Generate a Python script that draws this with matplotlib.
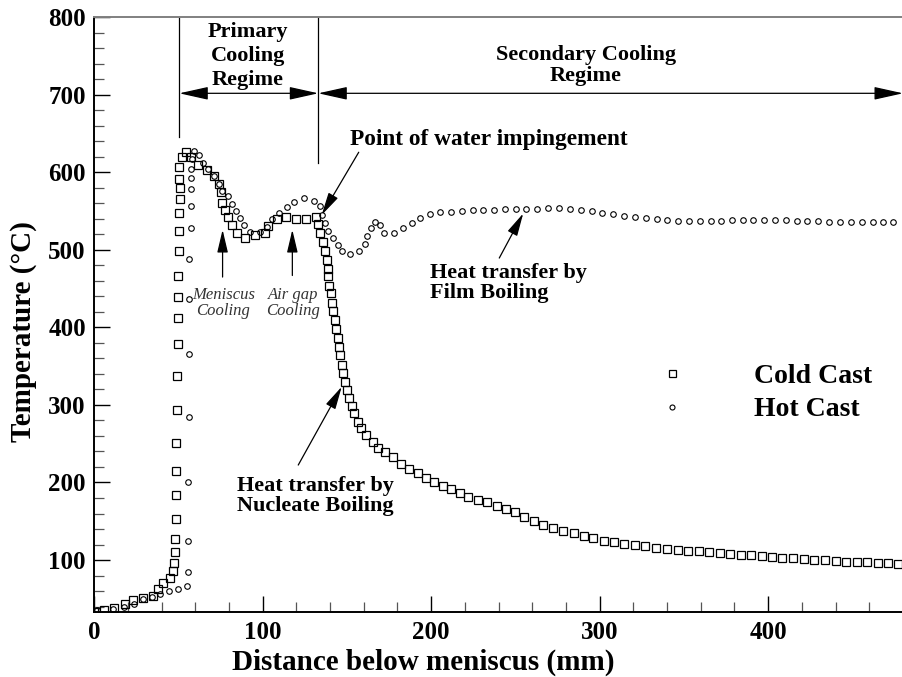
import matplotlib
matplotlib.use("Agg")
import matplotlib.pyplot as plt
import numpy as np
from matplotlib.ticker import MultipleLocator

plt.rcParams["font.family"] = ["Liberation Serif", "DejaVu Serif"]
plt.rcParams["font.weight"] = "bold"

# cold cast (squares), distance in mm and temperature in C
cold_x = [0, 6, 12, 18, 23, 29, 35, 38, 41, 45, 46.8, 47.4, 48, 48.1, 48.4, 48.5, 48.5,
          48.7, 49.1, 49.1, 49.6, 49.6, 49.9, 49.9, 50.3, 50.3, 50.3, 50.7, 51.1, 50.5,
          50.5, 51.9, 54.5, 57.5, 61.8, 66.8, 71.2, 73.8, 75.2, 76, 77.6, 79.6, 81.6,
          84.6, 89.5, 95.4, 101.4, 103.3, 108.3, 113.8, 119.8, 125.7, 131.6, 133, 134,
          135.6, 137, 138, 138.6, 139, 139.5, 140.4, 141.3, 141.9, 142.9, 143.5, 144.5,
          145.5, 145.9, 146.9, 147.8, 148.8, 149.8, 151.4, 152.8, 154.4, 156.4, 158.3,
          161.3, 165.3, 168.6, 172.8, 177.5, 182.1, 187, 192, 196.9, 201.8, 206.8, 211.7,
          217.1, 222, 227.6, 232.9, 238.9, 244.4, 249.7, 255.3, 261.2, 266.5, 272.5,
          278.4, 284.7, 290.7, 296.2, 302.6, 308.5, 314.6, 320.9, 326.9, 333.4, 339.8,
          346.3, 352.6, 358.9, 365, 371.4, 377.3, 383.9, 389.8, 396.1, 402.4, 408.4,
          414.9, 421.2, 427.4, 433.7, 440.1, 446.2, 452.5, 458.4, 465, 471.3, 477.2]
cold_t = [33, 35.5, 38.5, 43, 48, 50.5, 53.5, 63, 71, 77, 85.5, 95.7, 110.7, 126.7, 153, 184,
          215, 250.5, 294, 337, 379, 412, 439, 466, 498, 525, 548, 566, 580, 591, 607, 620,
          626.5, 620, 609.5, 603, 595, 585, 575, 561, 551, 542, 532, 522, 516, 519, 522,
          531, 539.5, 542, 539.5, 540, 542, 533, 522, 510.6, 499, 487, 476, 466, 453, 444,
          432, 421, 409.6, 397.6, 386.8, 375, 364.4, 351.5, 340.8, 330, 319.3, 308.6, 298.6,
          289.2, 278.4, 270, 261.2, 252.6, 244, 239.5, 233, 224, 217.4, 211.8, 206.2, 201,
          195.5, 191.2, 186, 180.9, 177.4, 174.4, 170, 165.8, 161.5, 155.9, 150.3, 145.2,
          140.9, 137.8, 134.4, 131, 128, 125, 123, 121, 119, 117.5, 116, 114.5, 113, 112,
          111, 110, 109, 108, 107, 106, 105, 104, 103, 102, 101, 100, 99.5, 99, 98, 97.5,
          97, 96.5, 96, 95.5]

# hot cast (circles)
hot_x = [1.8, 11.3, 17.7, 23.6, 28.8, 34.1, 39, 44.4, 49.9, 54.9, 55.5, 55.8, 55.8, 56.3,
         56.5, 56.5, 56.5, 57.3, 57.3, 57.3, 57.5, 57.5, 58, 59.2, 62.4, 64.7, 67.5, 71,
         74, 75.7, 79.6, 82, 84, 86.5, 88.9, 92.5, 98.4, 102.4, 105.3, 109.7, 114.2,
         118.8, 124.7, 130.4, 134, 135.4, 137, 138.9, 141.9, 144.5, 147.2, 152, 157.3,
         160.5, 162.1, 164.1, 166.6, 169.9, 172, 178.1, 183.1, 188.4, 193.4, 199.3, 205.2,
         211.7, 218.1, 224.6, 230.9, 237.3, 243.8, 250.1, 256.3, 263, 269.5, 276, 282.4,
         288.7, 295.3, 301.5, 308.1, 314.4, 320.9, 327.3, 333.8, 340.1, 346.7, 353, 359.5,
         365.9, 372, 378.3, 384.9, 391.2, 397.5, 404, 410.6, 416.9, 423.2, 429.7, 436.3,
         442.6, 448.9, 455.5, 462, 468.3, 474.2]
hot_t = [35.5, 36.4, 39, 43.3, 49.7, 52.7, 56.2, 60.4, 62.6, 66.9, 84.1, 124.9, 200.6, 284,
         365.7, 436.3, 488, 528, 556.6, 578.3, 593, 605, 616.8, 628, 622.4, 612.5, 604,
         595, 585, 576, 570, 559, 550, 541, 532, 522.7, 523.5, 529, 539.5, 547, 555, 562,
         566.5, 563.5, 556.6, 545, 534.3, 525, 515, 506, 499, 494.7, 498, 507, 518, 528,
         536.4, 532.5, 522.2, 522.2, 527.8, 534.3, 540.7, 546, 548.5, 549.3, 550.2, 551.4,
         551.4, 552, 552.7, 552.7, 552.7, 552.7, 554.4, 554.4, 552.7, 551.4, 550.2, 548,
         546.3, 544.1, 542.8, 540.7, 539.4, 538.6, 537.7, 537.3, 537.3, 537.3, 537.7,
         538.6, 538.6, 538.6, 538.6, 538.6, 538.6, 537.7, 537.7, 537.3, 536.4, 536.4,
         536.4, 536.4, 536, 536, 535.6]

labels = ["Cold Cast", "Hot Cast"]


def arrow(ax, tail, head, style="-|>,head_length=1.4,head_width=0.33"):
    """draw a thin arrow with a long filled head"""
    ax.annotate("", xy=head, xytext=tail,
                arrowprops=dict(arrowstyle=style, mutation_scale=10, color="black",
                                lw=0.9, shrinkA=0, shrinkB=0))


fig = plt.figure(figsize=(9.03, 6.77), dpi=100)
ax = fig.add_axes([0.1043, 0.0956, 0.8957, 0.8788])

ax.plot(cold_x, cold_t, "s", ms=5.6, mfc="none", mec="black", mew=0.9, label=labels[0])
ax.plot(hot_x, hot_t, "o", ms=4.0, mfc="none", mec="black", mew=0.8, label=labels[1])

ax.set_xlim(0, 480)
ax.set_ylim(32.6, 800)

# regime boundaries and arrows
ax.plot([50.5, 50.5], [646, 800], color="black", lw=0.9)
ax.plot([133, 133], [612, 800], color="black", lw=0.9)
dbl = "<|-|>,head_length=1.8,head_width=0.4"
arrow(ax, (50.5, 702), (133, 702), dbl)
arrow(ax, (133, 702), (480, 702), dbl)

ax.text(91.3, 750, "Primary\nCooling\nRegime", ha="center", va="center",
        fontsize=16, linespacing=1.27)
ax.text(291.9, 738, "Secondary Cooling\nRegime", ha="center", va="center",
        fontsize=16, linespacing=1.1)
ax.text(151.8, 643, "Point of water impingement", ha="left", va="center", fontsize=16.8)
arrow(ax, (157, 626), (135, 545))

ax.text(76.6, 431, "Meniscus\nCooling", ha="center", va="center", fontsize=12,
        style="italic", weight="normal", color="#333333", linespacing=1.0)
ax.text(118.2, 431, "Air gap\nCooling", ha="center", va="center", fontsize=12,
        style="italic", weight="normal", color="#333333", linespacing=1.0)
arrow(ax, (76.2, 465), (76.2, 526))
arrow(ax, (117.6, 467), (117.6, 526))

ax.text(199.3, 457, "Heat transfer by\nFilm Boiling", ha="left", va="center",
        fontsize=16, linespacing=1.0)
arrow(ax, (240.4, 489.5), (254.6, 547))
ax.text(84.6, 183, "Heat transfer by\nNucleate Boiling", ha="left", va="center",
        fontsize=16, linespacing=1.0)
arrow(ax, (121.1, 222.5), (146.9, 323.5))

leg = ax.legend(loc="upper left", bbox_to_anchor=(0.680, 0.442), frameon=False,
                fontsize=20, handlelength=1.0, handletextpad=2.45, labelspacing=0.3,
                borderpad=0, markerscale=0.9)

# axes look
ax.xaxis.set_major_locator(MultipleLocator(100))
ax.xaxis.set_minor_locator(MultipleLocator(20))
ax.yaxis.set_major_locator(MultipleLocator(100))
ax.yaxis.set_minor_locator(MultipleLocator(20))
ax.tick_params(which="major", direction="in", length=11.5, width=1.0, labelsize=18, pad=6)
ax.tick_params(which="minor", direction="in", length=7, width=0.9, color="#555555")
ax.spines["right"].set_visible(False)
ax.spines["top"].set_color("#808080")
for s in ["left", "bottom", "top"]:
    ax.spines[s].set_linewidth(1.4)
ax.set_xticks(np.arange(0, 401, 100))
ax.set_yticks(np.arange(100, 801, 100))

ax.set_xlabel("Distance below meniscus (mm)", fontsize=21, fontweight="bold", labelpad=4)
ax.set_ylabel("Temperature (\u00b0C)", fontsize=21, fontweight="bold", labelpad=8)
ax.xaxis.label.set_x(0.4065)
ax.yaxis.label.set_y(0.471)

plt.savefig("out.png", dpi=100)
